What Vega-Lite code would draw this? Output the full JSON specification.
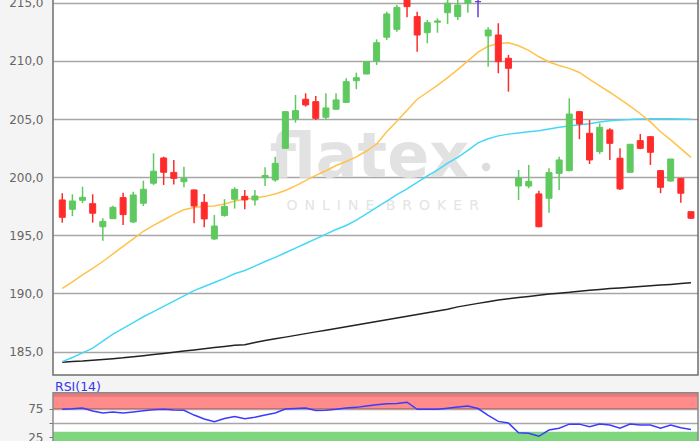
{
  "$schema": "https://vega.github.io/schema/vega-lite/v6.json",
  "width": 645,
  "height": 441,
  "autosize": "none",
  "padding": {"left": 53, "top": 0, "right": 2, "bottom": 0},
  "background": "#f4f4f4",
  "config": {
    "view": {"stroke": null, "fill": "#ffffff"},
    "axis": {"labelFont": "DejaVu Sans", "labelFontSize": 12, "labelColor": "#666666", "domain": false, "title": null}
  },
  "datasets": {
    "wm": [{"label": "flatex", "px": 30.3, "py": 200.0}],
    "wm2": [{"label": "O\u2002N\u2002L\u2002I\u2002N\u2002E\u2002 B\u2002R\u2002O\u2002K\u2002E\u2002R", "px": 31.6, "py": 197.18}],
    "dot": [{"px": 41.8, "py": 200.87}],
    "rsilabel": [{"label": "RSI(14)", "px": -0.72, "py": 112.7}],
    "one": [{}]
  },
  "data": {"values": [
    {"i":0,"o":198.04,"h":198.62,"l":196.09,"c":196.55,"d":"down","m20":190.45,"m50":184.14,"m200":184.09,"rsi":73.7},
    {"i":1,"o":197.24,"h":198.53,"l":196.66,"c":197.95,"d":"up","m20":191.0,"m50":184.5,"m200":184.15,"rsi":74.5},
    {"i":2,"o":198.01,"h":199.18,"l":197.76,"c":198.27,"d":"up","m20":191.6,"m50":184.9,"m200":184.2,"rsi":76},
    {"i":3,"o":197.72,"h":198.53,"l":196.09,"c":196.90,"d":"down","m20":192.15,"m50":185.3,"m200":184.27,"rsi":70.5},
    {"i":4,"o":195.74,"h":196.47,"l":194.54,"c":196.20,"d":"up","m20":192.75,"m50":185.9,"m200":184.33,"rsi":67},
    {"i":5,"o":196.43,"h":197.55,"l":196.40,"c":197.41,"d":"up","m20":193.4,"m50":186.5,"m200":184.4,"rsi":68.8},
    {"i":6,"o":198.24,"h":198.67,"l":195.89,"c":196.78,"d":"down","m20":194.05,"m50":187.0,"m200":184.47,"rsi":67.2},
    {"i":7,"o":196.15,"h":198.75,"l":196.05,"c":198.47,"d":"up","m20":194.7,"m50":187.5,"m200":184.56,"rsi":69},
    {"i":8,"o":197.76,"h":199.70,"l":197.52,"c":198.96,"d":"up","m20":195.35,"m50":188.0,"m200":184.65,"rsi":71},
    {"i":9,"o":199.48,"h":202.05,"l":199.33,"c":200.51,"d":"up","m20":195.85,"m50":188.44,"m200":184.75,"rsi":73},
    {"i":10,"o":201.65,"h":201.76,"l":199.33,"c":200.42,"d":"down","m20":196.32,"m50":188.9,"m200":184.85,"rsi":73.7},
    {"i":11,"o":200.41,"h":201.48,"l":199.36,"c":199.90,"d":"down","m20":196.8,"m50":189.35,"m200":184.95,"rsi":72.5},
    {"i":12,"o":199.61,"h":200.90,"l":199.13,"c":199.90,"d":"up","m20":197.2,"m50":189.8,"m200":185.05,"rsi":72},
    {"i":13,"o":198.90,"h":198.95,"l":196.04,"c":197.52,"d":"down","m20":197.4,"m50":190.25,"m200":185.15,"rsi":63.5},
    {"i":14,"o":197.84,"h":198.56,"l":195.69,"c":196.41,"d":"down","m20":197.5,"m50":190.6,"m200":185.25,"rsi":56.5},
    {"i":15,"o":194.69,"h":196.75,"l":194.60,"c":195.80,"d":"up","m20":197.52,"m50":190.95,"m200":185.35,"rsi":51.8},
    {"i":16,"o":196.71,"h":198.11,"l":196.60,"c":197.49,"d":"up","m20":197.7,"m50":191.3,"m200":185.45,"rsi":57.5},
    {"i":17,"o":198.10,"h":199.13,"l":197.30,"c":198.96,"d":"up","m20":197.95,"m50":191.7,"m200":185.55,"rsi":61},
    {"i":18,"o":198.35,"h":198.90,"l":197.24,"c":198.05,"d":"down","m20":198.1,"m50":191.98,"m200":185.6,"rsi":57},
    {"i":19,"o":198.04,"h":198.90,"l":197.56,"c":198.38,"d":"up","m20":198.2,"m50":192.35,"m200":185.78,"rsi":59.5},
    {"i":20,"o":199.96,"h":200.85,"l":199.24,"c":200.15,"d":"up","m20":198.35,"m50":192.75,"m200":185.95,"rsi":63.5},
    {"i":21,"o":199.76,"h":201.76,"l":199.61,"c":201.19,"d":"up","m20":198.55,"m50":193.1,"m200":186.1,"rsi":67},
    {"i":22,"o":202.48,"h":205.65,"l":202.45,"c":205.63,"d":"up","m20":198.85,"m50":193.5,"m200":186.25,"rsi":74},
    {"i":23,"o":204.98,"h":207.07,"l":204.68,"c":205.72,"d":"up","m20":199.25,"m50":193.9,"m200":186.4,"rsi":75},
    {"i":24,"o":206.70,"h":207.21,"l":206.06,"c":206.21,"d":"down","m20":199.7,"m50":194.3,"m200":186.55,"rsi":76},
    {"i":25,"o":206.49,"h":206.98,"l":204.92,"c":205.06,"d":"down","m20":200.15,"m50":194.7,"m200":186.7,"rsi":71.5},
    {"i":26,"o":205.15,"h":207.21,"l":204.98,"c":205.95,"d":"up","m20":200.55,"m50":195.1,"m200":186.85,"rsi":72},
    {"i":27,"o":205.84,"h":207.21,"l":205.80,"c":206.64,"d":"up","m20":201.0,"m50":195.5,"m200":187.0,"rsi":73.5},
    {"i":28,"o":206.43,"h":208.50,"l":206.40,"c":208.21,"d":"up","m20":201.35,"m50":195.85,"m200":187.15,"rsi":76},
    {"i":29,"o":208.29,"h":208.98,"l":207.56,"c":208.55,"d":"up","m20":201.75,"m50":196.3,"m200":187.3,"rsi":77},
    {"i":30,"o":208.87,"h":209.95,"l":208.85,"c":209.93,"d":"up","m20":202.25,"m50":196.85,"m200":187.45,"rsi":79.2},
    {"i":31,"o":209.99,"h":211.85,"l":209.64,"c":211.56,"d":"up","m20":202.85,"m50":197.4,"m200":187.6,"rsi":81.5},
    {"i":32,"o":212.03,"h":214.23,"l":211.79,"c":214.03,"d":"up","m20":203.9,"m50":197.95,"m200":187.75,"rsi":83.4},
    {"i":33,"o":212.71,"h":214.80,"l":212.51,"c":214.60,"d":"up","m20":204.8,"m50":198.5,"m200":187.9,"rsi":84},
    {"i":34,"o":215.40,"h":215.60,"l":213.75,"c":214.66,"d":"down","m20":205.75,"m50":199.0,"m200":188.05,"rsi":86},
    {"i":35,"o":213.80,"h":214.23,"l":210.79,"c":212.22,"d":"down","m20":206.7,"m50":199.55,"m200":188.2,"rsi":73.7},
    {"i":36,"o":212.42,"h":213.51,"l":211.51,"c":213.28,"d":"up","m20":207.3,"m50":200.1,"m200":188.35,"rsi":73.7},
    {"i":37,"o":213.32,"h":213.66,"l":212.42,"c":213.43,"d":"up","m20":207.9,"m50":200.6,"m200":188.5,"rsi":73.7},
    {"i":38,"o":214.14,"h":215.40,"l":213.17,"c":214.95,"d":"up","m20":208.55,"m50":201.2,"m200":188.65,"rsi":75.5},
    {"i":39,"o":213.80,"h":215.30,"l":213.51,"c":214.80,"d":"up","m20":209.25,"m50":201.7,"m200":188.85,"rsi":77.5},
    {"i":40,"o":214.95,"h":215.60,"l":214.14,"c":215.40,"d":"up","m20":210.0,"m50":202.3,"m200":189.0,"rsi":79.2},
    {"i":41,"o":215.09,"h":215.50,"l":213.75,"c":215.09,"d":"flat","m20":210.75,"m50":202.95,"m200":189.15,"rsi":75},
    {"i":42,"o":212.14,"h":212.89,"l":209.50,"c":212.65,"d":"up","m20":211.25,"m50":203.3,"m200":189.3,"rsi":63},
    {"i":43,"o":212.22,"h":213.23,"l":208.93,"c":209.93,"d":"down","m20":211.5,"m50":203.55,"m200":189.45,"rsi":52.4},
    {"i":44,"o":210.22,"h":210.50,"l":207.35,"c":209.36,"d":"down","m20":211.55,"m50":203.7,"m200":189.55,"rsi":49.5},
    {"i":45,"o":199.24,"h":200.62,"l":198.04,"c":199.93,"d":"up","m20":211.3,"m50":203.8,"m200":189.65,"rsi":32.3},
    {"i":46,"o":199.24,"h":201.05,"l":199.05,"c":199.64,"d":"up","m20":210.9,"m50":203.9,"m200":189.75,"rsi":31.7},
    {"i":47,"o":198.56,"h":198.84,"l":195.70,"c":195.74,"d":"down","m20":210.35,"m50":204.0,"m200":189.85,"rsi":26.3},
    {"i":48,"o":198.19,"h":200.77,"l":196.95,"c":200.39,"d":"up","m20":209.9,"m50":204.15,"m200":189.95,"rsi":37.2},
    {"i":49,"o":200.33,"h":201.76,"l":198.90,"c":201.48,"d":"up","m20":209.6,"m50":204.3,"m200":190.02,"rsi":40.3},
    {"i":50,"o":200.56,"h":206.78,"l":200.50,"c":205.43,"d":"up","m20":209.35,"m50":204.4,"m200":190.1,"rsi":47.6},
    {"i":51,"o":205.63,"h":205.70,"l":203.26,"c":204.57,"d":"down","m20":209.0,"m50":204.5,"m200":190.2,"rsi":47.6},
    {"i":52,"o":203.77,"h":204.92,"l":201.13,"c":201.48,"d":"down","m20":208.4,"m50":204.6,"m200":190.28,"rsi":43.2},
    {"i":53,"o":202.20,"h":204.63,"l":202.00,"c":204.29,"d":"up","m20":207.85,"m50":204.75,"m200":190.35,"rsi":47.6},
    {"i":54,"o":204.06,"h":204.20,"l":201.48,"c":202.91,"d":"down","m20":207.3,"m50":204.85,"m200":190.42,"rsi":46},
    {"i":55,"o":201.63,"h":202.48,"l":198.90,"c":198.99,"d":"down","m20":206.7,"m50":204.92,"m200":190.48,"rsi":40.3},
    {"i":56,"o":200.42,"h":202.85,"l":200.40,"c":202.83,"d":"up","m20":206.1,"m50":204.95,"m200":190.54,"rsi":47.6},
    {"i":57,"o":203.14,"h":203.71,"l":202.40,"c":202.48,"d":"down","m20":205.45,"m50":205.0,"m200":190.6,"rsi":46},
    {"i":58,"o":203.48,"h":203.50,"l":201.05,"c":202.14,"d":"down","m20":204.75,"m50":205.03,"m200":190.66,"rsi":46},
    {"i":59,"o":200.56,"h":200.60,"l":198.62,"c":199.13,"d":"down","m20":203.9,"m50":205.03,"m200":190.72,"rsi":40.3},
    {"i":60,"o":199.67,"h":201.56,"l":199.61,"c":201.56,"d":"up","m20":203.2,"m50":205.02,"m200":190.78,"rsi":46},
    {"i":61,"o":199.90,"h":199.92,"l":197.81,"c":198.62,"d":"down","m20":202.45,"m50":205.0,"m200":190.85,"rsi":41.4},
    {"i":62,"o":197.03,"h":197.05,"l":196.40,"c":196.47,"d":"down","m20":201.7,"m50":204.98,"m200":190.92,"rsi":38}
  ]},
  "layer": [
    {
      "layer": [
        {
          "mark": {"type": "line", "strokeWidth": 0},
          "encoding": {
            "x": {"field": "i", "type": "quantitative", "scale": {"domain": [-0.42, 62.2], "nice": false, "zero": false}, "axis": null},
            "y": {"field": "m200", "type": "quantitative", "scale": {"domain": [177.32, 215.23], "nice": false, "zero": false},
              "axis": {"orient": "left", "values": [185, 187.5, 190, 192.5, 195, 197.5, 200, 202.5, 205, 207.5, 210, 212.5, 215],
                "labelExpr": "replace(format(datum.value, '.1f'), '.', ',')", "tickSize": 0, "labelPadding": 10,
                "grid": true, "gridColor": "#a6a6a6", "gridWidth": 1.5}}
          }
        },
        {
          "data": {"name": "wm"},
          "mark": {"type": "text", "font": "DejaVu Sans", "fontWeight": "bold", "fontSize": 62, "color": "#e2e2e2", "align": "center", "baseline": "alphabetic"},
          "encoding": {
            "text": {"field": "label"},
            "x": {"field": "px", "type": "quantitative", "scale": {"domain": [-0.42, 62.2], "nice": false, "zero": false}, "axis": null},
            "y": {"field": "py", "type": "quantitative", "scale": {"domain": [177.32, 215.23], "nice": false, "zero": false}}
          }
        },
        {
          "data": {"name": "wm2"},
          "mark": {"type": "text", "font": "DejaVu Sans", "fontSize": 14, "color": "#e4e4e4", "align": "center", "baseline": "alphabetic"},
          "encoding": {
            "text": {"field": "label"},
            "x": {"field": "px", "type": "quantitative", "scale": {"domain": [-0.42, 62.2], "nice": false, "zero": false}, "axis": null},
            "y": {"field": "py", "type": "quantitative", "scale": {"domain": [177.32, 215.23], "nice": false, "zero": false}}
          }
        },
        {
          "data": {"name": "dot"},
          "mark": {"type": "point", "filled": true, "size": 70, "color": "#dcdcdc", "opacity": 1},
          "encoding": {
            "x": {"field": "px", "type": "quantitative", "scale": {"domain": [-0.42, 62.2], "nice": false, "zero": false}, "axis": null},
            "y": {"field": "py", "type": "quantitative", "scale": {"domain": [177.32, 215.23], "nice": false, "zero": false}}
          }
        },
        {
          "mark": {"type": "line", "color": "#222222", "strokeWidth": 1.5},
          "encoding": {
            "x": {"field": "i", "type": "quantitative", "scale": {"domain": [-0.42, 62.2], "nice": false, "zero": false}, "axis": null},
            "y": {"field": "m200", "type": "quantitative", "scale": {"domain": [177.32, 215.23], "nice": false, "zero": false}}
          }
        },
        {
          "mark": {"type": "line", "color": "#45d8f6", "strokeWidth": 1.5},
          "encoding": {
            "x": {"field": "i", "type": "quantitative", "scale": {"domain": [-0.42, 62.2], "nice": false, "zero": false}, "axis": null},
            "y": {"field": "m50", "type": "quantitative", "scale": {"domain": [177.32, 215.23], "nice": false, "zero": false}}
          }
        },
        {
          "mark": {"type": "line", "color": "#ffc24a", "strokeWidth": 1.5},
          "encoding": {
            "x": {"field": "i", "type": "quantitative", "scale": {"domain": [-0.42, 62.2], "nice": false, "zero": false}, "axis": null},
            "y": {"field": "m20", "type": "quantitative", "scale": {"domain": [177.32, 215.23], "nice": false, "zero": false}}
          }
        },
        {
          "mark": {"type": "rule", "strokeWidth": 1.5, "clip": true},
          "encoding": {
            "x": {"field": "i", "type": "quantitative", "scale": {"domain": [-0.42, 62.2], "nice": false, "zero": false}, "axis": null},
            "y": {"field": "l", "type": "quantitative", "scale": {"domain": [177.32, 215.23], "nice": false, "zero": false}},
            "y2": {"field": "h"},
            "color": {"field": "d", "type": "nominal", "scale": {"domain": ["up", "down", "flat"], "range": ["#5ec95e", "#ff2b2b", "#6a3ddb"]}, "legend": null}
          }
        },
        {
          "mark": {"type": "bar", "width": 6, "strokeWidth": 1, "clip": true},
          "encoding": {
            "x": {"field": "i", "type": "quantitative", "scale": {"domain": [-0.42, 62.2], "nice": false, "zero": false}, "axis": null},
            "y": {"field": "o", "type": "quantitative", "scale": {"domain": [177.32, 215.23], "nice": false, "zero": false}},
            "y2": {"field": "c"},
            "color": {"field": "d", "type": "nominal", "scale": {"domain": ["up", "down", "flat"], "range": ["#5ec95e", "#ff2b2b", "#6a3ddb"]}, "legend": null},
            "stroke": {"field": "d", "type": "nominal", "scale": {"domain": ["up", "down", "flat"], "range": ["#5ec95e", "#ff2b2b", "#6a3ddb"]}, "legend": null}
          }
        },
        {
          "data": {"name": "one"},
          "mark": {"type": "rect", "color": "#f4f4f4"},
          "encoding": {
            "x": {"value": 0},
            "x2": {"value": "width"},
            "y": {"datum": 183.0, "type": "quantitative", "scale": {"domain": [177.32, 215.23], "nice": false, "zero": false}},
            "y2": {"datum": 181.47}
          }
        },
        {
          "data": {"name": "one"},
          "mark": {"type": "rect", "fillOpacity": 0, "stroke": "#6e6e6e", "strokeWidth": 1.5},
          "encoding": {
            "x": {"value": 0},
            "x2": {"value": "width"},
            "y": {"datum": 183.0, "type": "quantitative", "scale": {"domain": [177.32, 215.23], "nice": false, "zero": false}},
            "y2": {"datum": 216.5}
          }
        }
      ]
    },
    {
      "layer": [
        {
          "data": {"name": "one"},
          "mark": {"type": "rect", "color": "#ff8b8b"},
          "encoding": {
            "x": {"value": 0},
            "x2": {"value": "width"},
            "y": {"datum": 75, "type": "quantitative", "scale": {"domain": [18.0, 791.7], "nice": false, "zero": false},
              "axis": {"orient": "left", "values": [25, 50, 75], "labelExpr": "datum.value == 50 ? '' : format(datum.value, 'd')",
                "tickSize": 4, "tickColor": "#777777", "labelPadding": 6, "grid": true, "gridColor": "#a6a6a6", "gridWidth": 1.5}},
            "y2": {"datum": 102.7}
          }
        },
        {
          "data": {"name": "one"},
          "mark": {"type": "rect", "color": "#e57a7a"},
          "encoding": {
            "x": {"value": 0},
            "x2": {"value": "width"},
            "y": {"datum": 95.7, "type": "quantitative", "scale": {"domain": [18.0, 791.7], "nice": false, "zero": false}},
            "y2": {"datum": 102.7}
          }
        },
        {
          "data": {"name": "one"},
          "mark": {"type": "rule", "color": "#d46a6a", "strokeWidth": 1},
          "encoding": {
            "x": {"value": 0},
            "x2": {"value": "width"},
            "y": {"datum": 75, "type": "quantitative", "scale": {"domain": [18.0, 791.7], "nice": false, "zero": false}}
          }
        },
        {
          "data": {"name": "one"},
          "mark": {"type": "rect", "color": "#7fd67f"},
          "encoding": {
            "x": {"value": 0},
            "x2": {"value": "width"},
            "y": {"datum": 18.0, "type": "quantitative", "scale": {"domain": [18.0, 791.7], "nice": false, "zero": false}},
            "y2": {"datum": 34.3}
          }
        },
        {
          "mark": {"type": "line", "color": "#3b3bff", "strokeWidth": 1.5},
          "encoding": {
            "x": {"field": "i", "type": "quantitative", "scale": {"domain": [-0.42, 62.2], "nice": false, "zero": false}, "axis": null},
            "y": {"field": "rsi", "type": "quantitative", "scale": {"domain": [18.0, 791.7], "nice": false, "zero": false}}
          }
        },
        {
          "data": {"name": "one"},
          "mark": {"type": "rect", "fillOpacity": 0, "stroke": "#8a8a8a", "strokeWidth": 1.5},
          "encoding": {
            "x": {"value": 0},
            "x2": {"value": "width"},
            "y": {"datum": 10, "type": "quantitative", "scale": {"domain": [18.0, 791.7], "nice": false, "zero": false}},
            "y2": {"datum": 102.7}
          }
        },
        {
          "data": {"name": "rsilabel"},
          "mark": {"type": "text", "font": "DejaVu Sans", "fontSize": 12.5, "color": "#3535f0", "align": "left", "baseline": "middle"},
          "encoding": {
            "text": {"field": "label"},
            "x": {"field": "px", "type": "quantitative", "scale": {"domain": [-0.42, 62.2], "nice": false, "zero": false}, "axis": null},
            "y": {"field": "py", "type": "quantitative", "scale": {"domain": [18.0, 791.7], "nice": false, "zero": false}}
          }
        }
      ]
    }
  ],
  "resolve": {"scale": {"y": "independent"}, "axis": {"y": "independent"}}
}
